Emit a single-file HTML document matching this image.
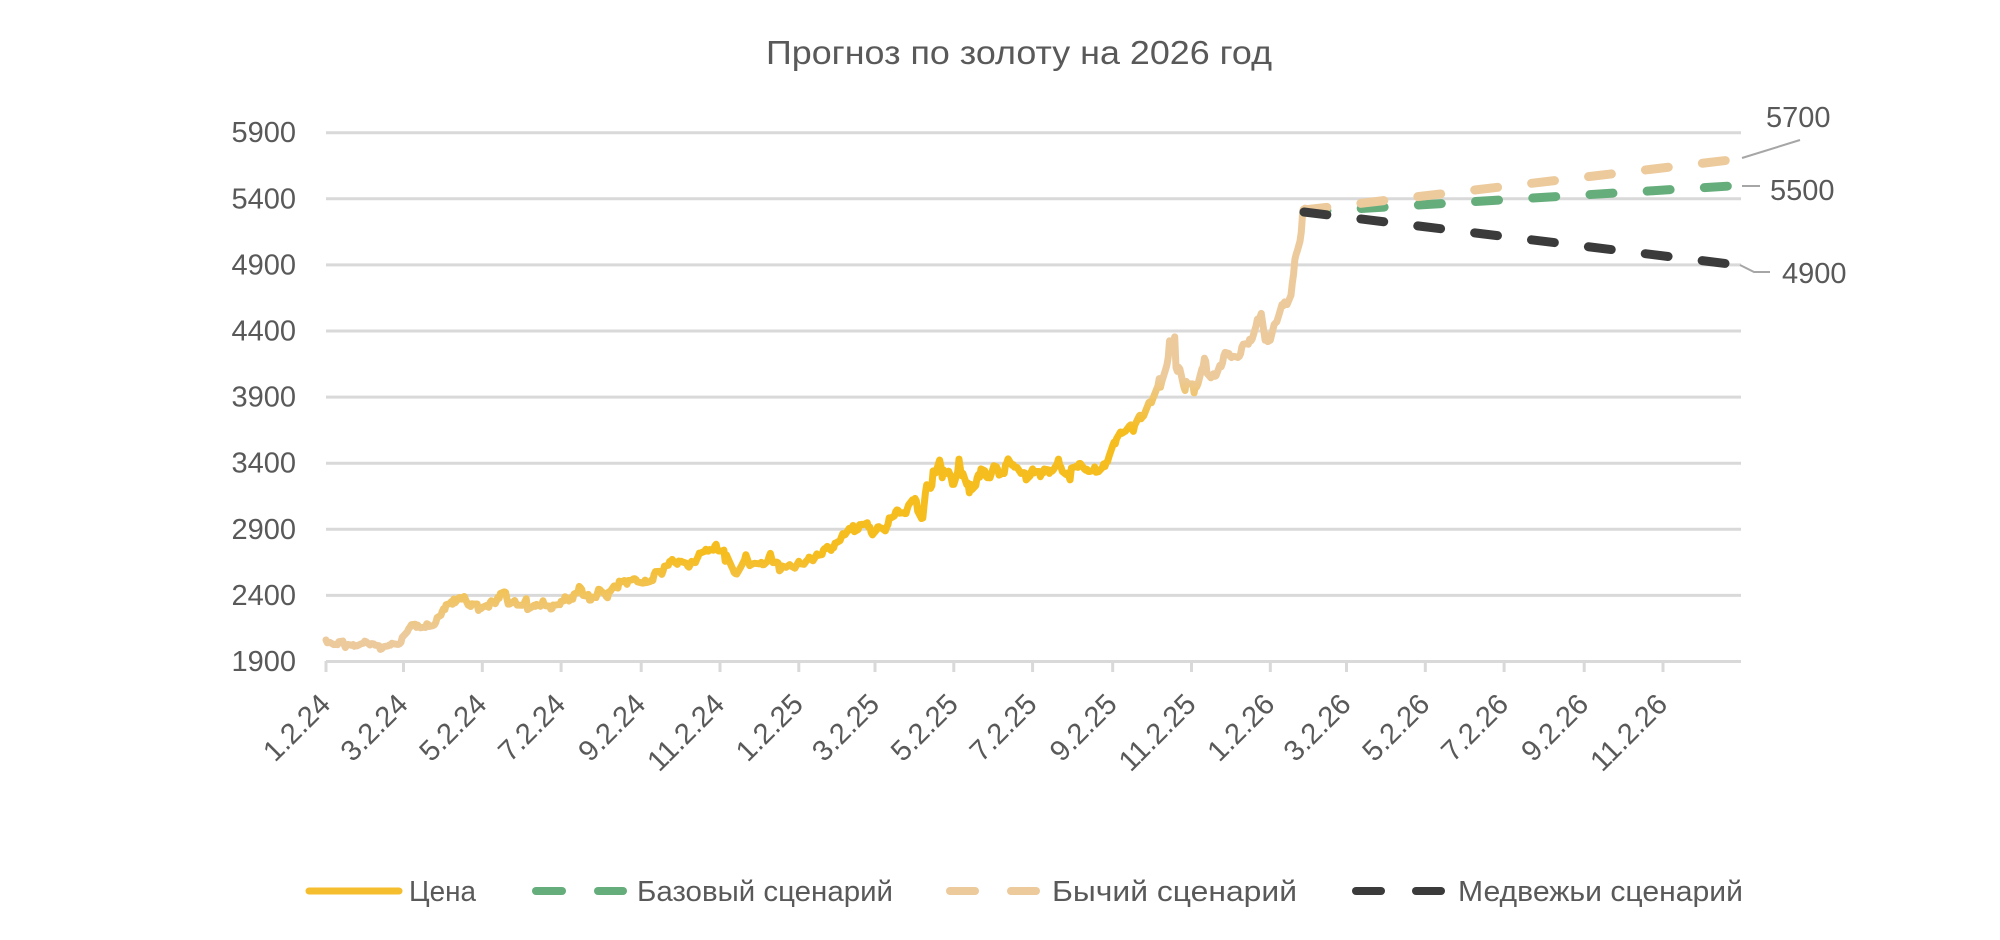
<!DOCTYPE html>
<html><head><meta charset="utf-8">
<style>html,body{margin:0;padding:0;background:#fff;}svg{display:block}</style>
</head><body>
<svg width="2000" height="940" viewBox="0 0 2000 940" xmlns="http://www.w3.org/2000/svg" font-family="'Liberation Sans', 'Noto Sans CJK SC', sans-serif">
<defs>
<linearGradient id="pg" gradientUnits="userSpaceOnUse" x1="0" y1="1900" x2="0" y2="5400">
<stop offset="0" stop-color="#ECCA9C"/>
<stop offset="0.06" stop-color="#ECCA9C"/>
<stop offset="0.23" stop-color="#F6BD1E"/>
<stop offset="0.5" stop-color="#F6BD1E"/>
<stop offset="0.614" stop-color="#ECCA9C"/>
<stop offset="1" stop-color="#ECCA9C"/>
</linearGradient>
</defs>
<rect width="2000" height="940" fill="#fff"/>

<text x="1019" y="64" font-size="33" fill="#595959" text-anchor="middle" textLength="506" lengthAdjust="spacingAndGlyphs">Прогноз по золоту на 2026 год</text>

<g stroke="#D9D9D9" stroke-width="3">
<line x1="326" y1="132.7" x2="1741" y2="132.7"/>
<line x1="326" y1="198.8" x2="1741" y2="198.8"/>
<line x1="326" y1="264.9" x2="1741" y2="264.9"/>
<line x1="326" y1="331" x2="1741" y2="331"/>
<line x1="326" y1="397.1" x2="1741" y2="397.1"/>
<line x1="326" y1="463.2" x2="1741" y2="463.2"/>
<line x1="326" y1="529.3" x2="1741" y2="529.3"/>
<line x1="326" y1="595.4" x2="1741" y2="595.4"/>
<line x1="326" y1="661.5" x2="1741" y2="661.5"/>
<line x1="326" y1="661" x2="326" y2="672"/>
<line x1="403.5" y1="661" x2="403.5" y2="672"/>
<line x1="482.3" y1="661" x2="482.3" y2="672"/>
<line x1="561.1" y1="661" x2="561.1" y2="672"/>
<line x1="641.2" y1="661" x2="641.2" y2="672"/>
<line x1="720" y1="661" x2="720" y2="672"/>
<line x1="798.8" y1="661" x2="798.8" y2="672"/>
<line x1="875" y1="661" x2="875" y2="672"/>
<line x1="953.8" y1="661" x2="953.8" y2="672"/>
<line x1="1032.6" y1="661" x2="1032.6" y2="672"/>
<line x1="1112.7" y1="661" x2="1112.7" y2="672"/>
<line x1="1191.5" y1="661" x2="1191.5" y2="672"/>
<line x1="1270.3" y1="661" x2="1270.3" y2="672"/>
<line x1="1346.5" y1="661" x2="1346.5" y2="672"/>
<line x1="1425.3" y1="661" x2="1425.3" y2="672"/>
<line x1="1504.1" y1="661" x2="1504.1" y2="672"/>
<line x1="1584.2" y1="661" x2="1584.2" y2="672"/>
<line x1="1663" y1="661" x2="1663" y2="672"/>
</g>

<g font-size="29" fill="#595959" text-anchor="end">
<text x="296" y="142.2">5900</text>
<text x="296" y="208.3">5400</text>
<text x="296" y="274.4">4900</text>
<text x="296" y="340.5">4400</text>
<text x="296" y="406.6">3900</text>
<text x="296" y="472.7">3400</text>
<text x="296" y="538.8">2900</text>
<text x="296" y="604.9">2400</text>
<text x="296" y="671">1900</text>
</g>

<g font-size="29" fill="#595959" text-anchor="end">
<text x="332" y="706" transform="rotate(-45 332 706)">1.2.24</text>
<text x="409.5" y="706" transform="rotate(-45 409.5 706)">3.2.24</text>
<text x="488.3" y="706" transform="rotate(-45 488.3 706)">5.2.24</text>
<text x="567.1" y="706" transform="rotate(-45 567.1 706)">7.2.24</text>
<text x="647.2" y="706" transform="rotate(-45 647.2 706)">9.2.24</text>
<text x="726" y="706" transform="rotate(-45 726 706)">11.2.24</text>
<text x="804.8" y="706" transform="rotate(-45 804.8 706)">1.2.25</text>
<text x="881" y="706" transform="rotate(-45 881 706)">3.2.25</text>
<text x="959.8" y="706" transform="rotate(-45 959.8 706)">5.2.25</text>
<text x="1038.6" y="706" transform="rotate(-45 1038.6 706)">7.2.25</text>
<text x="1118.7" y="706" transform="rotate(-45 1118.7 706)">9.2.25</text>
<text x="1197.5" y="706" transform="rotate(-45 1197.5 706)">11.2.25</text>
<text x="1276.3" y="706" transform="rotate(-45 1276.3 706)">1.2.26</text>
<text x="1352.5" y="706" transform="rotate(-45 1352.5 706)">3.2.26</text>
<text x="1431.3" y="706" transform="rotate(-45 1431.3 706)">5.2.26</text>
<text x="1510.1" y="706" transform="rotate(-45 1510.1 706)">7.2.26</text>
<text x="1590.2" y="706" transform="rotate(-45 1590.2 706)">9.2.26</text>
<text x="1669" y="706" transform="rotate(-45 1669 706)">11.2.26</text>
</g>

<g transform="translate(326,912.7) scale(1.2918,-0.1322)">
<polyline fill="none" stroke="url(#pg)" stroke-width="7" stroke-linejoin="round" stroke-linecap="round" vector-effect="non-scaling-stroke" points="0,2063 1,2042 2,2043 3,2045 6,2028 7,2030 8,2029 9,2028 10,2050 13,2055 14,2030 15,2006 16,2022 17,2029 20,2022 21,2029 22,2015 23,2020 24,2018 27,2033 28,2036 29,2039 30,2054 31,2050 34,2025 35,2035 36,2035 37,2033 38,2024 41,2020 42,1992 43,1995 44,2004 45,2013 48,2018 49,2025 50,2024 51,2038 52,2035 55,2030 56,2030 57,2034 58,2044 59,2083 62,2115 63,2126 64,2148 65,2160 66,2178 69,2182 70,2158 71,2175 72,2162 73,2155 76,2160 77,2157 78,2186 79,2181 80,2165 83,2172 84,2178 85,2195 86,2232 89,2250 90,2280 91,2300 92,2292 93,2330 96,2339 97,2353 98,2333 99,2373 100,2345 103,2383 104,2383 105,2372 106,2380 107,2392 110,2327 111,2322 112,2316 113,2337 114,2334 117,2335 118,2286 119,2303 120,2300 121,2309 124,2323 125,2315 126,2310 127,2346 128,2360 131,2337 132,2358 133,2385 134,2378 135,2415 138,2427 139,2423 140,2378 141,2334 142,2334 145,2351 146,2362 147,2342 148,2327 149,2327 152,2326 153,2330 154,2354 155,2375 156,2293 159,2310 160,2317 161,2325 162,2317 163,2332 166,2318 167,2330 168,2360 169,2327 170,2322 173,2319 174,2297 175,2300 176,2327 177,2326 180,2331 181,2330 182,2355 184,2358 185,2390 188,2358 189,2364 190,2385 191,2371 192,2411 195,2423 196,2468 197,2458 198,2445 199,2400 202,2394 203,2408 204,2364 205,2365 206,2387 209,2384 210,2412 211,2447 212,2444 213,2432 216,2410 217,2391 218,2382 219,2427 220,2430 223,2472 224,2464 225,2458 226,2456 227,2508 230,2503 231,2513 232,2505 233,2484 234,2512 237,2518 238,2525 239,2526 240,2520 241,2503 245,2493 246,2494 247,2516 248,2497 251,2505 252,2516 253,2513 254,2559 255,2580 258,2582 259,2570 260,2559 261,2587 262,2621 265,2628 266,2657 267,2657 268,2672 269,2658 272,2635 273,2660 274,2656 275,2658 276,2653 279,2644 280,2622 281,2614 282,2632 283,2657 286,2648 287,2673 288,2693 289,2720 290,2721 293,2733 294,2749 295,2736 296,2735 297,2747 300,2742 301,2774 302,2787 303,2743 304,2736 307,2737 308,2743 309,2658 310,2706 311,2684 314,2618 315,2598 316,2573 317,2565 318,2562 321,2613 322,2631 323,2650 324,2670 325,2708 328,2625 329,2632 330,2637 331,2641 332,2643 335,2639 336,2643 337,2650 338,2632 339,2633 342,2660 343,2694 344,2718 345,2680 346,2648 349,2652 350,2645 351,2586 352,2595 353,2623 356,2612 357,2619 359,2633 360,2622 363,2606 364,2624 366,2658 367,2640 370,2635 371,2649 372,2662 373,2670 374,2690 377,2662 378,2678 379,2696 380,2714 381,2703 384,2709 385,2743 386,2755 387,2755 388,2771 391,2740 392,2765 393,2760 394,2795 395,2798 398,2815 399,2842 400,2867 401,2856 402,2861 405,2907 406,2897 407,2905 408,2929 409,2882 412,2899 413,2935 414,2933 415,2938 416,2935 419,2950 420,2915 421,2917 422,2876 423,2858 426,2893 427,2918 428,2920 429,2910 430,2910 433,2888 434,2917 435,2935 436,2987 437,2984 440,3001 441,3034 442,3047 443,3043 444,3022 447,3026 448,3019 449,3020 450,3056 451,3085 454,3123 455,3113 456,3134 457,3114 458,3038 461,2982 462,2985 463,3083 464,3175 465,3237 468,3210 469,3230 470,3342 471,3330 472,3327 475,3424 476,3380 477,3290 478,3349 479,3319 482,3340 483,3317 484,3288 485,3240 486,3240 489,3334 490,3431 491,3364 492,3306 493,3324 496,3238 497,3250 498,3176 499,3240 500,3200 503,3231 504,3289 505,3314 506,3294 507,3357 510,3343 511,3300 512,3290 513,3315 514,3289 517,3381 518,3352 519,3374 520,3353 521,3310 524,3325 525,3322 526,3387 527,3403 528,3433 531,3385 532,3390 533,3370 534,3369 535,3368 538,3323 539,3326 540,3329 541,3327 542,3274 545,3303 546,3338 547,3357 548,3326 549,3337 552,3337 553,3298 554,3324 555,3325 556,3356 559,3350 560,3323 561,3346 562,3339 563,3349 566,3396 567,3431 568,3387 569,3370 570,3337 573,3314 574,3326 575,3300 576,3274 577,3363 580,3373 581,3378 582,3369 583,3397 584,3398 587,3357 588,3348 589,3355 590,3338 591,3337 594,3346 595,3372 596,3332 597,3333 598,3336 601,3367 602,3395 603,3375 604,3406 605,3412 606,3447 609,3533 610,3559 611,3546 612,3586 615,3636 616,3626 617,3631 618,3638 619,3643 622,3683 623,3690 624,3660 625,3641 626,3685 629,3747 630,3763 631,3736 632,3749 633,3759 636,3833 637,3859 638,3865 639,3858 640,3886 643,3960 644,3985 645,4040 646,3975 647,4017 650,4110 651,4145 652,4202 653,4326 654,4251 657,4356 658,4125 659,4095 660,4126 661,4113 664,3981 665,3950 666,4018 667,4001 668,4000 671,4000 672,3932 673,3980 674,3977 675,4000 678,4113 679,4130 680,4194 681,4172 682,4080 685,4046 686,4067 687,4077 688,4057 689,4062 692,4141 693,4130 694,4158 695,4213 696,4238 699,4230 700,4207 701,4199 702,4208 703,4208 706,4200 707,4208 708,4228 709,4280 710,4300 713,4305 714,4300 715,4338 716,4325 717,4340 720,4440 721,4490 722,4480 724,4533 727,4330 728,4370 729,4320 731,4330 734,4450 735,4460 736,4470 737,4500 740,4600 741,4590 742,4620 743,4610 744,4600 747,4670 748,4760 749,4830 750,4940 751,4980 752,5010 754,5080 755,5150 756,5290 757,5310 758,5330"/>
</g>

<g fill="none" stroke-width="9" stroke-linecap="round" stroke-dasharray="23 34.3">
<path d="M1304,212 L1737,185.6" stroke="#66AD7C"/>
<path d="M1304,210 L1737,159.2" stroke="#ECCA9C"/>
<path d="M1304,212 L1737,264.9" stroke="#3B3B3B"/>
</g>

<g fill="none" stroke="#A6A6A6" stroke-width="2">
<polyline points="1742,158 1800,140"/>
<polyline points="1742,186 1760,186"/>
<polyline points="1740,265 1754,272 1770,272"/>
</g>
<g font-size="29" fill="#595959">
<text x="1766" y="127">5700</text>
<text x="1770" y="200">5500</text>
<text x="1782" y="283">4900</text>
</g>

<g stroke-linecap="round" fill="none">
<line x1="309" y1="891" x2="399" y2="891" stroke="#F4BE2E" stroke-width="7"/>
<line x1="536" y1="891" x2="562" y2="891" stroke="#66AD7C" stroke-width="8"/>
<line x1="598" y1="891" x2="623" y2="891" stroke="#66AD7C" stroke-width="8"/>
<line x1="950" y1="891" x2="975" y2="891" stroke="#ECCA9C" stroke-width="8"/>
<line x1="1011" y1="891" x2="1036" y2="891" stroke="#ECCA9C" stroke-width="8"/>
<line x1="1356" y1="891" x2="1381" y2="891" stroke="#3B3B3B" stroke-width="8"/>
<line x1="1416" y1="891" x2="1441" y2="891" stroke="#3B3B3B" stroke-width="8"/>
</g>
<g font-size="29" fill="#595959">
<text x="409" y="901" textLength="67" lengthAdjust="spacingAndGlyphs">Цена</text>
<text x="637" y="901" textLength="256" lengthAdjust="spacingAndGlyphs">Базовый сценарий</text>
<text x="1052" y="901" textLength="245" lengthAdjust="spacingAndGlyphs">Бычий сценарий</text>
<text x="1458" y="901" textLength="285" lengthAdjust="spacingAndGlyphs">Медвежьи сценарий</text>
</g>
</svg>
</body></html>
